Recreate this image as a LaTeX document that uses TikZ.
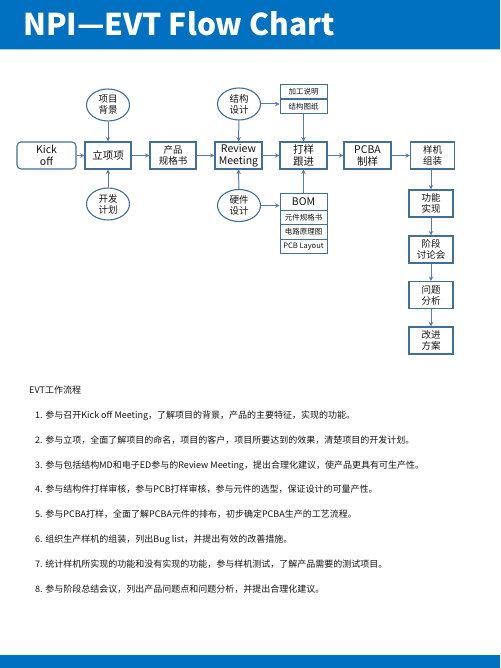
\documentclass[tikz,border=0pt]{standalone}
\usepackage{fontspec}
\setmainfont{Noto Sans CJK SC}
\usepackage{tikz}
\usetikzlibrary{arrows.meta,positioning,shapes.geometric}
\definecolor{headblue}{RGB}{0,112,192}
\definecolor{boxline}{RGB}{65,110,155}
\definecolor{arrowblue}{RGB}{88,120,180}
\definecolor{textgray}{RGB}{20,20,20}

\begin{document}
\begin{tikzpicture}[x=1pt,y=-1pt,
  box/.style={draw=boxline,line width=1.1pt,fill=white,minimum width=46pt,minimum height=27pt,inner sep=0pt,align=center,text=textgray,font=\fontsize{9.5}{11}\selectfont},
  colbox/.style={box,minimum width=44pt},
  bubble/.style={ellipse,draw=boxline,line width=1.1pt,fill=white,minimum width=43pt,minimum height=32pt,inner sep=0pt,align=center,text=textgray,font=\fontsize{9.5}{11}\selectfont},
  row/.style={draw=boxline,line width=1pt,fill=white,minimum width=47pt,minimum height=14.5pt,inner sep=0pt,text=textgray,font=\fontsize{7.5}{8}\selectfont},
  flow/.style={draw=arrowblue,line width=1pt,-{Stealth[length=4.5pt,width=4.5pt]}},
  item/.style={anchor=base west,inner sep=0pt,text=textgray,font=\fontsize{9}{10}\selectfont}]
  \useasboundingbox (0,0) rectangle (500,668);

  \fill[headblue] (0,0) rectangle (500,49);
  \fill[headblue!35] (0,49) rectangle (500,50.5);
  \fill[headblue] (0,655) rectangle (500,668);
  \node[anchor=base west,inner sep=0pt,text=white,font=\fontsize{30}{31}\selectfont\bfseries] (title) at (23,36) {NPI—EVT Flow Chart};

  \node[box,rounded corners=4pt,minimum width=59pt,font=\fontsize{10.5}{11.5}\selectfont] (kick) at (46.5,155.5) {Kick\\off};
  \node[box,font=\fontsize{10.5}{11}\selectfont] (lixiang) at (108,155.5) {立项项};
  \node[bubble] (bg) at (108,105) {项目\\背景};
  \node[bubble] (plan) at (108,204) {开发\\计划};
  \node[box] (spec) at (173,155.5) {产品\\规格书};
  \node[box,minimum width=47pt,font=\fontsize{10.5}{12}\selectfont] (review) at (238.5,155.5) {Review\\Meeting};
  \node[bubble] (mech) at (239,104) {结构\\设计};
  \node[bubble] (hw) at (239,205.5) {硬件\\设计};

  \node[row] (jiagong) at (303.5,91.5) {加工说明};
  \node[row] (tuzhi) at (303.5,106.5) {结构图纸};
  \node[box,minimum width=47pt,font=\fontsize{10.5}{12}\selectfont] (dayang) at (303.5,155.5) {打样\\跟进};
  \node[row,minimum height=16pt,font=\fontsize{10.5}{11}\selectfont] (bom) at (303.5,202) {BOM};
  \node[row] (yuanjian) at (303.5,217.25) {元件规格书};
  \node[row] (dianlu) at (303.5,231.75) {电路原理图};
  \node[row] (layout) at (303.5,246.25) {PCB Layout};

  \node[box,minimum width=47pt,font=\fontsize{10.5}{12}\selectfont] (pcba) at (367.5,155.5) {PCBA\\制样};
  \node[colbox] (assem) at (432.5,155.5) {样机\\组装};
  \node[colbox] (func) at (431,203.5) {功能\\实现};
  \node[colbox] (stage) at (431,249.5) {阶段\\讨论会};
  \node[colbox] (issue) at (431,295) {问题\\分析};
  \node[colbox] (improve) at (431,340.5) {改进\\方案};

  \draw[flow] (kick) -- (lixiang);
  \draw[flow] (bg) -- (lixiang);
  \draw[flow] (plan) -- (lixiang);
  \draw[flow] (lixiang) -- (spec);
  \draw[flow] (spec) -- (review);
  \draw[flow] (mech) -- (review);
  \draw[flow] (hw) -- (review);
  \draw[flow] (review) -- (dayang);
  \draw[flow] (mech) -- (tuzhi.west|-mech);
  \draw[flow] (hw) -- (bom.west|-hw);
  \draw[flow] (tuzhi) -- (dayang);
  \draw[flow] (bom) -- (dayang);
  \draw[flow] (dayang) -- (pcba);
  \draw[flow] (pcba) -- (assem);
  \draw[flow] (assem.south-|func) -- (func);
  \draw[flow] (func) -- (stage);
  \draw[flow] (stage) -- (issue);
  \draw[flow] (issue) -- (improve);

  \node[item] (head) at (29,393) {EVT工作流程};
  \node[item] (s1) at (35,418) {1. 参与召开Kick off Meeting，了解项目的背景，产品的主要特征，实现的功能。};
  \node[item] (s2) at (35,443) {2. 参与立项，全面了解项目的命名，项目的客户，项目所要达到的效果，清楚项目的开发计划。};
  \node[item] (s3) at (35,468) {3. 参与包括结构MD和电子ED参与的Review Meeting，提出合理化建议，使产品更具有可生产性。};
  \node[item] (s4) at (35,492) {4. 参与结构件打样审核，参与PCB打样审核，参与元件的选型，保证设计的可量产性。};
  \node[item] (s5) at (35,517) {5. 参与PCBA打样，全面了解PCBA元件的排布，初步确定PCBA生产的工艺流程。};
  \node[item] (s6) at (35,542) {6. 组织生产样机的组装，列出Bug list，并提出有效的改善措施。};
  \node[item] (s7) at (35,567) {7. 统计样机所实现的功能和没有实现的功能，参与样机测试，了解产品需要的测试项目。};
  \node[item] (s8) at (35,592) {8. 参与阶段总结会议，列出产品问题点和问题分析，并提出合理化建议。};
\end{tikzpicture}
\end{document}
